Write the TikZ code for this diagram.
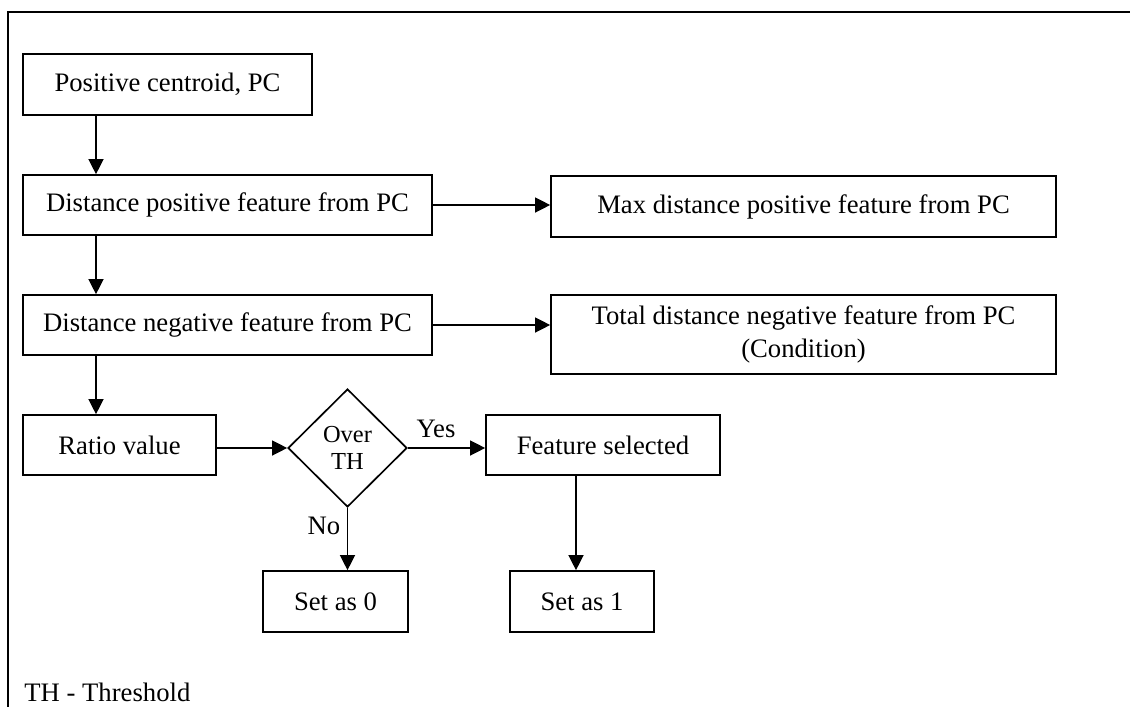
\documentclass[tikz,border=0pt]{standalone}
\usepackage{fontspec}
\setmainfont{Liberation Serif}
\usetikzlibrary{shapes.geometric,arrows.meta}
\begin{document}
% one drawing unit = 0.45pt
\def\pxu{0.45pt}
\begin{tikzpicture}[x=0.45pt,y=-0.45pt,
  box/.style={draw,line width=0.75pt,inner sep=0pt,align=center,
              font=\fontsize{12}{14.5}\selectfont},
  decision/.style={draw,line width=0.75pt,diamond,aspect=1,inner sep=0pt,
              align=center,font=\fontsize{11}{12.2}\selectfont},
  arr/.style={line width=0.6pt,-{Triangle[length=6.8pt,width=6.8pt]}},
  lbl/.style={inner sep=0pt,font=\fontsize{12}{14.5}\selectfont}]
\useasboundingbox (0,0) rectangle (1130,707);

% open frame: top and left edges
\draw[line width=0.9pt] (1130,11.7) -- (7.5,11.7) -- (7.5,707);

% main column
\node[box,minimum width=289*\pxu,minimum height=61*\pxu] (pc)    at (167.5,84.5) {Positive centroid, PC};
\node[box,minimum width=409*\pxu,minimum height=60*\pxu] (dpos)  at (227.5,205)  {Distance positive feature from PC};
\node[box,minimum width=409*\pxu,minimum height=60*\pxu] (dneg)  at (227.5,325)  {Distance negative feature from PC};
\node[box,minimum width=193*\pxu,minimum height=60*\pxu] (ratio) at (119.5,445)  {Ratio value};

% right column
\node[box,minimum width=505*\pxu,minimum height=61*\pxu] (bmax) at (803.5,206.5) {Max distance positive feature from PC};
\node[box,minimum width=505*\pxu,minimum height=79*\pxu] (btot) at (803.5,334.5) {Total distance negative feature from PC\\(Condition)};

% decision and outcomes
\node[decision,minimum width=119*\pxu,minimum height=118*\pxu] (dia) at (347.5,448) {Over\\TH};
\node[box,minimum width=234*\pxu,minimum height=60*\pxu] (bsel)  at (603,445)   {Feature selected};
\node[box,minimum width=145*\pxu,minimum height=61*\pxu] (bzero) at (335.5,601.5) {Set as 0};
\node[box,minimum width=144*\pxu,minimum height=61*\pxu] (bone)  at (582,601.5)  {Set as 1};

% branch labels
\node[lbl] (yes) at (436,429) {Yes};
\node[lbl] (no)  at (324,526) {No};

% legend
\node[lbl,anchor=base west] (legend) at (24,701) {TH - Threshold};

% vertical guide lines for the downward connectors
\coordinate (spine) at (96,0);
\coordinate (selx)  at (576,0);

% connectors
\draw[arr] (pc.south -| spine)   -- (dpos.north -| spine);
\draw[arr] (dpos.south -| spine) -- (dneg.north -| spine);
\draw[arr] (dneg.south -| spine) -- (ratio.north -| spine);
\draw[arr] (dpos.east) -- (dpos.east -| bmax.west);
\draw[arr] (dneg.east) -- (dneg.east -| btot.west);
\draw[arr] (ratio.east |- dia.west) -- (dia.west);
\draw[arr] (dia.east) -- (dia.east -| bsel.west);
\draw[arr] (dia.south) -- (dia.south |- bzero.north);
\draw[arr] (bsel.south -| selx) -- (bone.north -| selx);
\end{tikzpicture}
\end{document}
